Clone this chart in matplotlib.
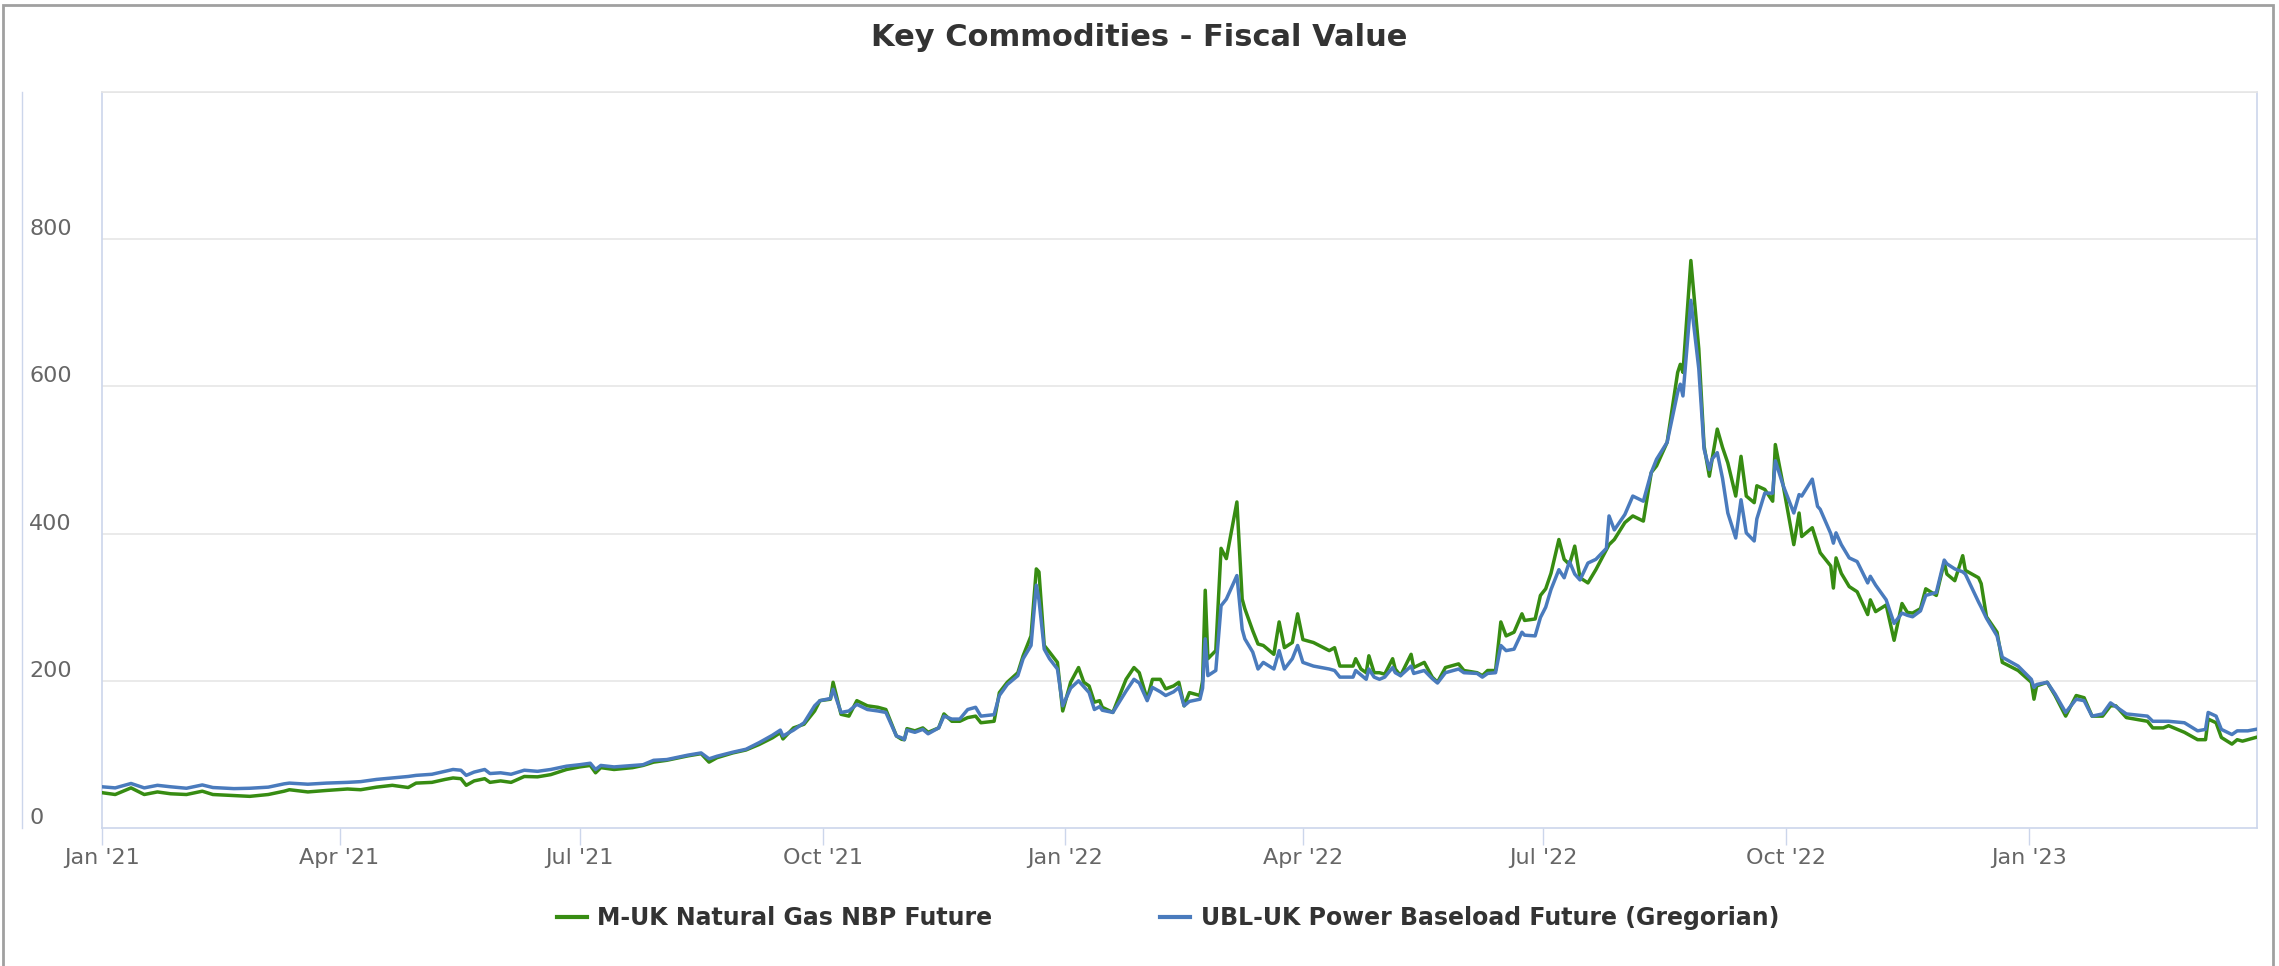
import matplotlib
matplotlib.use("Agg")
import matplotlib.dates as mdates
import matplotlib.pyplot as plt
import pandas as pd
from matplotlib.lines import Line2D
from matplotlib.patches import Rectangle
from matplotlib.transforms import blended_transform_factory, offset_copy

# ===== データ =====
dates = [
    "2021-01-01", "2021-01-06", "2021-01-12", "2021-01-17", "2021-01-22", "2021-01-27",
    "2021-02-02", "2021-02-08", "2021-02-12", "2021-02-20", "2021-02-26", "2021-03-05",
    "2021-03-11", "2021-03-13", "2021-03-20", "2021-03-27", "2021-04-04", "2021-04-09",
    "2021-04-15", "2021-04-21", "2021-04-27", "2021-04-30", "2021-05-06", "2021-05-11",
    "2021-05-14", "2021-05-17", "2021-05-19", "2021-05-22", "2021-05-26", "2021-05-28",
    "2021-06-01", "2021-06-05", "2021-06-10", "2021-06-15", "2021-06-20", "2021-06-26",
    "2021-07-01", "2021-07-05", "2021-07-07", "2021-07-09", "2021-07-14", "2021-07-21",
    "2021-07-25", "2021-07-29", "2021-08-03", "2021-08-11", "2021-08-16", "2021-08-19",
    "2021-08-22", "2021-08-28", "2021-09-02", "2021-09-07", "2021-09-12", "2021-09-15",
    "2021-09-16", "2021-09-20", "2021-09-24", "2021-09-28", "2021-09-30", "2021-10-04",
    "2021-10-05", "2021-10-08", "2021-10-11", "2021-10-14", "2021-10-18", "2021-10-22",
    "2021-10-25", "2021-10-29", "2021-10-31", "2021-11-01", "2021-11-02", "2021-11-05",
    "2021-11-08", "2021-11-10", "2021-11-14", "2021-11-16", "2021-11-19", "2021-11-22",
    "2021-11-25", "2021-11-28", "2021-11-30", "2021-12-05", "2021-12-07", "2021-12-10",
    "2021-12-14", "2021-12-16", "2021-12-19", "2021-12-21", "2021-12-22", "2021-12-24",
    "2021-12-26", "2021-12-29", "2021-12-31", "2022-01-03", "2022-01-06", "2022-01-08",
    "2022-01-10", "2022-01-12", "2022-01-14", "2022-01-15", "2022-01-19", "2022-01-24",
    "2022-01-27", "2022-01-29", "2022-02-01", "2022-02-03", "2022-02-06", "2022-02-08",
    "2022-02-11", "2022-02-13", "2022-02-15", "2022-02-17", "2022-02-21", "2022-02-22",
    "2022-02-23", "2022-02-24", "2022-02-27", "2022-03-01", "2022-03-03", "2022-03-07",
    "2022-03-09", "2022-03-10", "2022-03-13", "2022-03-15", "2022-03-17", "2022-03-21",
    "2022-03-23", "2022-03-25", "2022-03-28", "2022-03-30", "2022-04-01", "2022-04-05",
    "2022-04-11", "2022-04-13", "2022-04-15", "2022-04-20", "2022-04-21", "2022-04-23",
    "2022-04-25", "2022-04-26", "2022-04-28", "2022-04-30", "2022-05-02", "2022-05-05",
    "2022-05-06", "2022-05-08", "2022-05-12", "2022-05-13", "2022-05-17", "2022-05-20",
    "2022-05-22", "2022-05-25", "2022-05-30", "2022-06-01", "2022-06-06", "2022-06-08",
    "2022-06-10", "2022-06-13", "2022-06-15", "2022-06-17", "2022-06-20", "2022-06-23",
    "2022-06-24", "2022-06-28", "2022-06-30", "2022-07-02", "2022-07-04", "2022-07-07",
    "2022-07-09", "2022-07-11", "2022-07-13", "2022-07-15", "2022-07-18", "2022-07-21",
    "2022-07-25", "2022-07-26", "2022-07-28", "2022-08-01", "2022-08-04", "2022-08-08",
    "2022-08-11", "2022-08-13", "2022-08-17", "2022-08-21", "2022-08-22", "2022-08-23",
    "2022-08-26", "2022-08-29", "2022-08-31", "2022-09-02", "2022-09-03", "2022-09-05",
    "2022-09-07", "2022-09-09", "2022-09-12", "2022-09-14", "2022-09-16", "2022-09-19",
    "2022-09-20", "2022-09-23", "2022-09-26", "2022-09-27", "2022-09-30", "2022-10-04",
    "2022-10-06", "2022-10-07", "2022-10-11", "2022-10-13", "2022-10-14", "2022-10-18",
    "2022-10-19", "2022-10-20", "2022-10-22", "2022-10-25", "2022-10-28", "2022-11-01",
    "2022-11-02", "2022-11-04", "2022-11-08", "2022-11-11", "2022-11-14", "2022-11-16",
    "2022-11-18", "2022-11-21", "2022-11-23", "2022-11-27", "2022-11-30", "2022-12-01",
    "2022-12-04", "2022-12-07", "2022-12-08", "2022-12-13", "2022-12-14", "2022-12-16",
    "2022-12-20", "2022-12-22", "2022-12-28", "2023-01-02", "2023-01-03", "2023-01-04",
    "2023-01-08", "2023-01-11", "2023-01-15", "2023-01-19", "2023-01-22", "2023-01-25",
    "2023-01-29", "2023-02-01", "2023-02-03", "2023-02-07", "2023-02-15", "2023-02-17",
    "2023-02-21", "2023-02-23", "2023-03-01", "2023-03-06", "2023-03-09", "2023-03-10",
    "2023-03-13", "2023-03-15", "2023-03-19", "2023-03-21", "2023-03-23", "2023-03-25",
    "2023-03-28",
]

gas_nbp = [
    48, 45.5, 54.5, 45.5, 49, 46.5, 45.5, 50, 45.5, 44, 43, 45.5,
    50, 52, 49, 51, 53, 52, 55.5, 58, 55, 61, 62, 66,
    68, 67, 58, 64, 67, 62, 64, 62, 70, 69.5, 72.5, 79.5,
    83, 85, 75, 82, 79.5, 82, 85, 89.5, 92, 98, 101, 89.5,
    95.5, 102, 106, 113.5, 122.5, 129.5, 121, 136, 141, 159, 173, 175,
    198, 154.5, 152, 173, 166, 164, 161, 125, 120.5, 120, 135, 132,
    136, 130, 136, 155, 145, 145, 150, 152, 143, 145, 184, 198,
    211, 234, 261, 352, 348, 248, 239, 225, 159, 198, 218, 198,
    193, 171, 173, 164, 157, 202, 218, 211, 175, 202, 202, 189,
    193, 198, 166, 184, 180, 200, 323, 230, 241, 380, 366, 443,
    311, 298, 268, 250, 248, 236, 280, 245, 252, 291, 256, 252,
    241, 245, 220, 220, 230, 216, 211, 234, 211, 211, 209, 230,
    216, 207, 236, 218, 225, 205, 198, 218, 223, 214, 211, 207,
    214, 214, 280, 261, 266, 291, 282, 284, 316, 325, 346, 392,
    365, 358, 383, 340, 333, 351, 378, 385, 392, 415, 424, 417,
    483, 492, 524, 619, 630, 619, 771, 651, 519, 478, 500, 542,
    517, 496, 451, 505, 451, 442, 465, 460, 444, 521, 465, 385,
    428, 396, 408, 385, 374, 356, 326, 367, 346, 328, 321, 290,
    310, 294, 303, 255, 305, 293, 292, 298, 325, 316, 361, 345,
    336, 370, 350, 340, 332, 287, 266, 225, 214, 198, 175, 193,
    198, 180, 152, 180, 177, 152, 152, 166, 166, 150, 145, 136,
    136, 139, 130, 120, 120, 148, 143, 123, 114, 120, 118, 120,
    123,
]

power_baseload = [
    56, 54.5, 60.5, 54.5, 58, 56, 54, 58.5, 55, 53.5, 54, 55.5,
    60, 61, 59.5, 61, 62, 63, 66, 68, 70, 71.5, 73, 77,
    79.5, 78.5, 71.5, 76, 79.5, 74, 75, 73, 78.5, 77, 79.5, 84,
    86, 88, 79.5, 85, 83, 85, 86, 92, 93, 99, 102, 94,
    97.5, 103, 107, 116, 126, 133, 125, 133, 143, 166, 173, 176,
    188.5, 157, 159, 168, 161, 159, 157, 125, 122.5, 120, 133, 130,
    134, 128, 136, 152, 148, 148, 161, 164, 152, 154, 180, 195,
    207, 230, 248, 330, 310, 243, 230, 216, 166, 190, 200, 192,
    184, 161, 165, 160, 157, 186, 202, 197, 173, 191, 185, 180,
    185, 191, 166, 172, 175, 190, 257, 207, 214, 302, 311, 343,
    270, 257, 239, 216, 225, 216, 241, 216, 230, 248, 225, 220,
    216, 214, 205, 205, 214, 208, 202, 216, 205, 202, 205, 218,
    211, 207, 220, 210, 214, 203, 197, 211, 216, 211, 210, 205,
    210, 211, 248, 241, 243, 266, 262, 261, 286, 300, 324, 351,
    340, 362, 345, 337, 360, 365, 380, 424, 405, 426, 451, 444,
    483, 501, 524, 592, 603, 587, 717, 624, 515, 487, 501, 510,
    475, 428, 394, 446, 401, 390, 420, 455, 455, 499, 465, 428,
    453, 451, 474, 437, 433, 400, 387, 401, 385, 367, 362, 333,
    342, 330, 310, 278, 292, 289, 287, 295, 316, 320, 364, 359,
    352, 348, 345, 307, 300, 285, 261, 232, 220, 202, 191, 195,
    198, 182, 157, 175, 173, 152, 155, 170, 165, 155, 152, 145,
    145, 145, 143, 132, 134, 157, 152, 134, 127, 132, 132, 132,
    134,
]

series_names = ["M-UK Natural Gas NBP Future", "UBL-UK Power Baseload Future (Gregorian)"]
y_ticks = [0, 200, 400, 600, 800]
title = "Key Commodities - Fiscal Value"

GREEN = "#378c12"
BLUE = "#4a7bbd"
AXIS_BLUE = "#ccd6eb"
GRID = "#e6e6e6"

# ===== 図のレイアウト（ピクセル基準） =====
W, H = 2279, 966
fig = plt.figure(figsize=(W / 100, H / 100), dpi=100)
fig.patch.set_facecolor("white")

ax = fig.add_axes([102 / W, 1 - 828 / H, 2155 / W, 736 / H])

x = pd.to_datetime(dates)
ax.plot(x, gas_nbp, color=GREEN, lw=2.5, solid_joinstyle="round", zorder=3)
ax.plot(x, power_baseload, color=BLUE, lw=2.5, solid_joinstyle="round", zorder=4)

ax.set_xlim(pd.Timestamp("2021-01-01"), pd.Timestamp("2023-03-28 12:00"))
ax.set_ylim(0, 1000)

# グリッドと枠
ax.set_yticks([200, 400, 600, 800, 1000])
ax.yaxis.grid(True, color=GRID, lw=1.2)
ax.set_axisbelow(True)
ax.tick_params(axis="y", length=0, labelleft=False)
for side in ["left", "right", "bottom"]:
    ax.spines[side].set_color(AXIS_BLUE)
    ax.spines[side].set_linewidth(1.2)
ax.spines["top"].set_color(GRID)
ax.spines["top"].set_linewidth(1.2)

# x軸
ax.xaxis.set_major_locator(mdates.MonthLocator(bymonth=[1, 4, 7, 10]))
ax.xaxis.set_major_formatter(mdates.DateFormatter("%b '%y"))
ax.tick_params(axis="x", length=12.5, width=1.0, color=AXIS_BLUE,
               labelsize=16, labelcolor="#666666", pad=2)

# y軸ラベル（グリッド線の少し上、左寄せ）
trans = blended_transform_factory(fig.transFigure, ax.transData)
trans = offset_copy(trans, fig=fig, x=0, y=4, units="dots")
for v in y_ticks:
    ax.text(29 / W, v, str(v), transform=trans, ha="left", va="baseline",
            fontsize=16, color="#666666", clip_on=False)

# 左端の細い縦線
fig.add_artist(Line2D([22 / W, 22 / W], [1 - 92 / H, 1 - 828 / H],
                      transform=fig.transFigure, color=AXIS_BLUE, lw=1.0))

# 外枠
fig.add_artist(Rectangle((2.5 / W, -0.05), 2270 / W, 1.05 - 5 / H,
                         transform=fig.transFigure, fill=False,
                         edgecolor="#a0a0a0", lw=2))

# タイトル
fig.text(0.5, 1 - 37 / H, title, ha="center", va="center",
         fontsize=22, fontweight="bold", color="#333333")

# 凡例
handles = [Line2D([], [], color=GREEN, lw=3), Line2D([], [], color=BLUE, lw=3)]
leg = fig.legend(handles, series_names, loc="center",
                 bbox_to_anchor=(1168 / W, 1 - 918 / H), ncol=2, frameon=False,
                 prop={"weight": "bold", "size": 17}, handlelength=1.27,
                 handletextpad=0.46, columnspacing=7.1)
for t in leg.get_texts():
    t.set_color("#333333")

fig.savefig("out.png", dpi=100)
